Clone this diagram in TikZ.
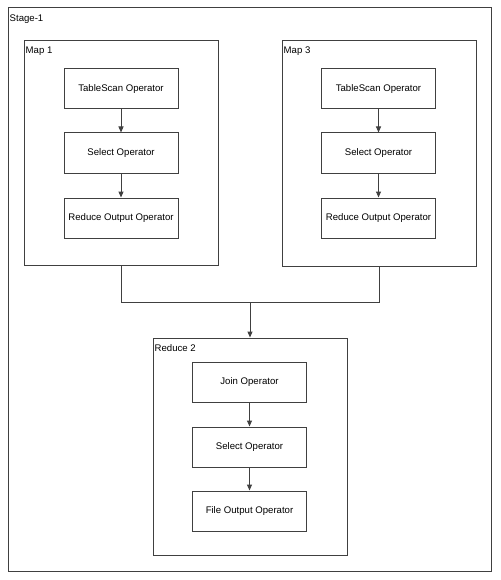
\documentclass[tikz,border=0pt]{standalone}
\usepackage{fontspec}
\setmainfont{Liberation Sans}
\usetikzlibrary{arrows.meta,positioning}

\tikzset{
  box/.style={draw=black!75, line width=1pt, fill=white},
  container/.style={box, inner sep=0pt},
  op/.style={box, minimum width=114pt, minimum height=40pt, inner sep=1pt},
  tag/.style={anchor=west, inner sep=0pt},
  flow/.style={draw=black!75, line width=1pt, -{Triangle[length=6pt,width=5pt]}},
  wire/.style={draw=black!75, line width=1pt}
}

\begin{document}
\begin{tikzpicture}[x=1pt, y=-1pt, font=\fontsize{9.6}{11}\selectfont]
\useasboundingbox[fill=white] (0,0) rectangle (500,580);

% Stage
\node[container, minimum width=483pt, minimum height=563pt] (stage) at (249.5,289.5) {};
\node[tag] (stagetag) at ([shift={(2,12)}]stage.north west) {Stage-1};

% Map 1
\node[container, minimum width=194pt, minimum height=224pt] (map1) at (121,153) {};
\node[tag] (map1tag) at ([shift={(2,11)}]map1.north west) {Map 1};
\node[op] (scan1) at (121,89) {TableScan Operator};
\node[op] (sel1) at (121,153) {Select Operator};
\node[op] (rout1) at (121,218) {Reduce Output Operator};
\draw[flow] (scan1) -- (sel1);
\draw[flow] (sel1) -- (rout1);

% Map 3
\node[container, minimum width=194pt, minimum height=225pt] (map3) at (379,153.5) {};
\node[tag] (map3tag) at ([shift={(2,11)}]map3.north west) {Map 3};
\node[op] (scan3) at (378.5,89) {TableScan Operator};
\node[op] (sel3) at (378.5,153) {Select Operator};
\node[op] (rout3) at (378.5,218) {Reduce Output Operator};
\draw[flow] (scan3) -- (sel3);
\draw[flow] (sel3) -- (rout3);

% Reduce 2
\node[container, minimum width=194pt, minimum height=217pt] (red2) at (250,446.5) {};
\node[tag] (red2tag) at ([shift={(2,11)}]red2.north west) {Reduce 2};
\node[op] (join) at (249.5,382) {Join Operator};
\node[op] (sel2) at (249.5,447) {Select Operator};
\node[op] (fout) at (249.5,511) {File Output Operator};
\draw[flow] (join) -- (sel2);
\draw[flow] (sel2) -- (fout);

% Shuffle
\coordinate (merge) at (250,302.5);
\draw[wire] (map1.south) |- (merge) -| (map3.south);
\draw[flow] (merge) -- (red2.north);
\end{tikzpicture}
\end{document}
